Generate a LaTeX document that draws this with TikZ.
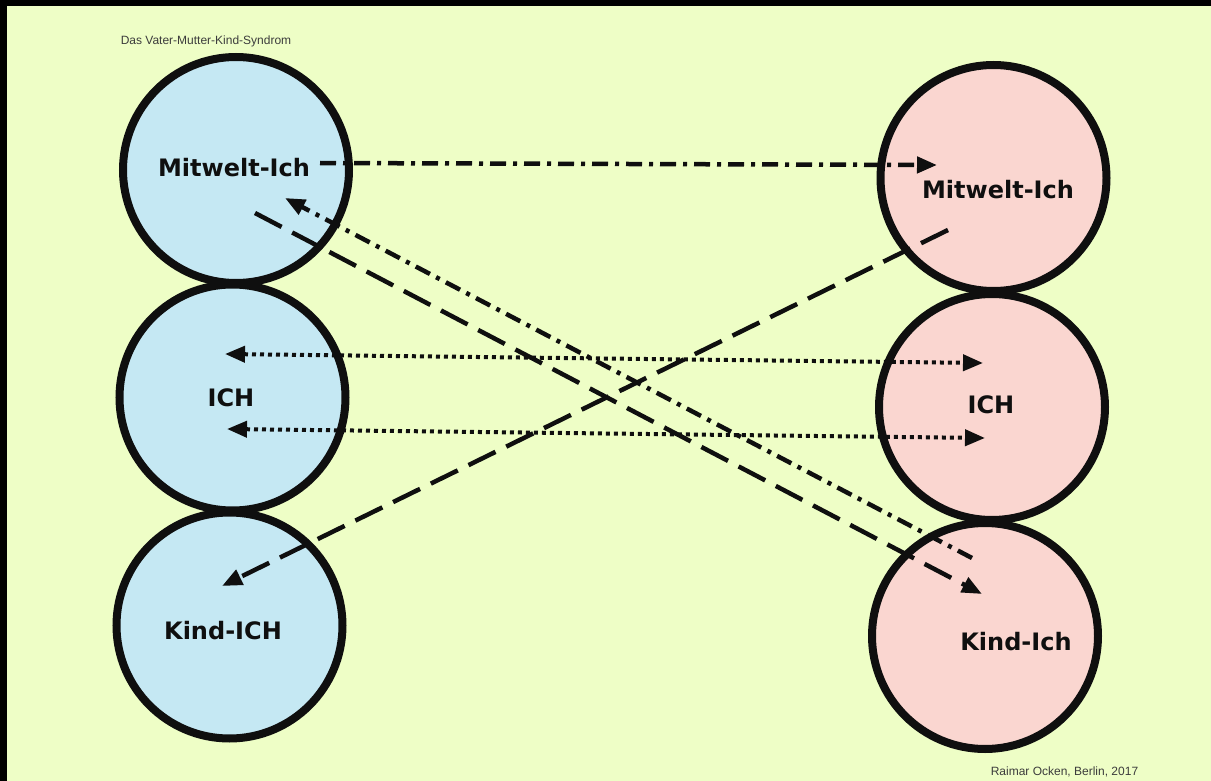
\documentclass[tikz,border=0pt]{standalone}
\usepackage{fontspec}
\setmainfont{DejaVu Sans}
\newfontfamily\smallfont{Liberation Sans}
\usetikzlibrary{arrows.meta}
\definecolor{bgyellow}{RGB}{238,254,198}
\definecolor{lblue}{RGB}{197,232,243}
\definecolor{lpink}{RGB}{250,214,208}
\definecolor{greytext}{RGB}{60,60,60}
\definecolor{ink}{RGB}{15,15,15}
\tikzset{
  ring/.style={circle, draw=ink, line width=8pt, inner sep=0pt, minimum size=226pt},
  leftring/.style={ring, fill=lblue},
  rightring/.style={ring, fill=lpink},
  lab/.style={font=\fontsize{24}{28}\selectfont\bfseries, text=ink, anchor=base, inner sep=0pt},
  small/.style={font=\smallfont\fontsize{12}{14}\selectfont, text=greytext, anchor=base, inner sep=0pt},
  tip/.style={-{Triangle[length=20pt,width=16pt]}},
  bothtip/.style={{Triangle[length=20pt,width=16pt]}-{Triangle[length=20pt,width=16pt]}},
  dashdotline/.style={draw=ink, line width=4.5pt, dash pattern=on 16pt off 7pt on 4pt off 7pt},
  longdash/.style={draw=ink, line width=4.5pt, dash pattern=on 30pt off 12pt},
  dotline/.style={draw=ink, line width=4pt, dash pattern=on 4pt off 4pt},
}
\begin{document}
\begin{tikzpicture}[x=1pt,y=-1pt]
\useasboundingbox (0,0) rectangle (1211,781);
\fill[bgyellow] (0,0) rectangle (1211,781);
\fill[black] (0,0) rectangle (1211,6);
\fill[black] (0,0) rectangle (7,781);

% circles
\node[leftring] (L1) at (236,170) {};
\node[leftring] (L3) at (229.5,625.5) {};
\node[leftring] (L2) at (232.5,397.5) {};
\node[rightring] (R1) at (993.5,178) {};
\node[rightring] (R3) at (985,636) {};
\node[rightring] (R2) at (992,407) {};

% labels
\node[lab] (tL1) at (234,177) {Mitwelt-Ich};
\node[lab] (tL2) at (231,406) {ICH};
\node[lab] (tL3) at (223,639) {Kind-ICH};
\node[lab] (tR1) at (998,199) {Mitwelt-Ich};
\node[lab] (tR2) at (991,413) {ICH};
\node[lab] (tR3) at (1016,650) {Kind-Ich};

\node[small] (title) at (206,45) {Das Vater-Mutter-Kind-Syndrom};
\node[small] (credit) at (1064.5,775) {Raimar Ocken, Berlin, 2017};

% connector end points
\coordinate (a1s) at (320,163);
\coordinate (a1e) at (937,165);
\coordinate (a2s) at (972,558);
\coordinate (a2e) at (285,198);
\coordinate (a3s) at (255,213);
\coordinate (a3e) at (982,594);
\coordinate (a4s) at (948,230);
\coordinate (a4e) at (222,586);
\coordinate (a5s) at (225,354);
\coordinate (a5e) at (983,363);
\coordinate (a6s) at (227,429);
\coordinate (a6e) at (985,438);

% connectors
\draw[dashdotline, tip] (a1s) -- (a1e);
\draw[dashdotline, tip] (a2s) -- (a2e);
\draw[longdash, tip] (a3s) -- (a3e);
\draw[longdash, tip] (a4s) -- (a4e);
\draw[dotline, bothtip] (a5s) -- (a5e);
\draw[dotline, bothtip] (a6s) -- (a6e);
\end{tikzpicture}
\end{document}
